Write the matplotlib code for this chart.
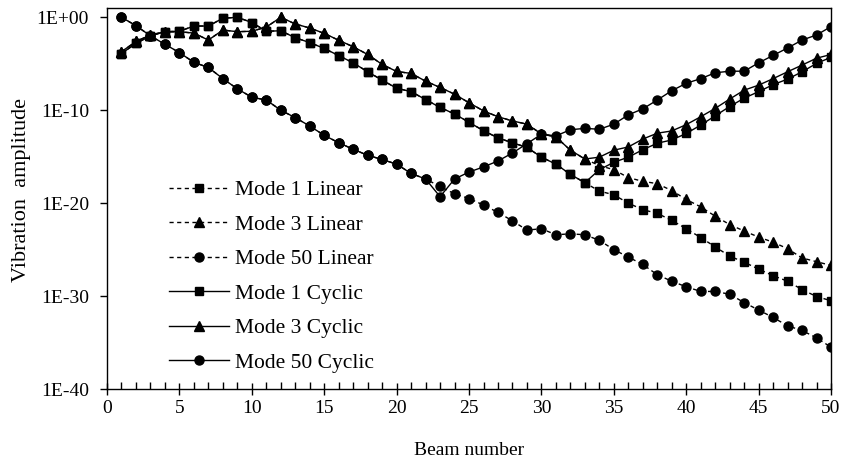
import numpy as np
import matplotlib
matplotlib.use("Agg")
import matplotlib.pyplot as plt
from matplotlib.ticker import FixedLocator, MultipleLocator, FuncFormatter

plt.rcParams["font.family"] = ["Liberation Serif", "DejaVu Serif"]

# beam numbers
beams = np.arange(1, 51)

# log10 of vibration amplitude
mode1_cyclic = [-3.9, -2.8, -2.0, -1.55, -1.5, -0.94, -0.94, -0.1, 0.0, -0.56,
                -1.5, -1.45, -2.2, -2.72, -3.35, -4.12, -4.9, -5.86, -6.76, -7.63,
                -8.0, -8.85, -9.7, -10.4, -11.3, -12.2, -12.98, -13.5, -14.0, -15.05,
                -15.8, -16.9, -17.8, -16.4, -15.6, -15.05, -14.25, -13.55, -13.2, -12.5,
                -11.6, -10.6, -9.6, -8.7, -8.0, -7.25, -6.65, -5.86, -4.96, -4.3]
mode3_cyclic = [-3.7, -2.6, -1.9, -1.55, -1.55, -1.7, -2.45, -1.37, -1.55, -1.5,
                -1.05, 0.0, -0.72, -1.15, -1.73, -2.47, -3.17, -4.0, -5.07, -5.83,
                -6.04, -6.87, -7.55, -8.27, -9.2, -10.07, -10.7, -11.15, -11.5, -12.55,
                -12.87, -14.3, -15.25, -15.05, -14.3, -13.95, -13.1, -12.47, -12.23, -11.55,
                -10.7, -9.8, -8.8, -7.84, -7.3, -6.6, -5.86, -5.14, -4.4, -4.0]
mode50_cyclic = [0.0, -0.9, -2.0, -2.9, -3.8, -4.85, -5.4, -6.6, -7.7, -8.6,
                 -8.9, -10.0, -10.8, -11.7, -12.7, -13.5, -14.2, -14.85, -15.3, -15.8,
                 -16.8, -17.4, -19.3, -17.4, -16.65, -16.1, -15.46, -14.6, -13.6, -12.58,
                 -12.76, -12.1, -11.95, -12.05, -11.5, -10.5, -9.85, -8.9, -7.9, -7.1,
                 -6.6, -5.97, -5.8, -5.8, -4.9, -4.1, -3.3, -2.45, -1.9, -1.0]

# linear results: same as cyclic up to the split, then keep decaying
mode1_linear = mode1_cyclic[:33] + [-18.7, -19.1, -20.0, -20.7, -21.1, -21.85, -22.75, -23.7,
                                    -24.7, -25.7, -26.35, -27.1, -27.8, -28.4, -29.3, -30.05, -30.5]
mode3_linear = mode3_cyclic[:33] + [-15.95, -16.4, -17.25, -17.65, -17.9, -18.65, -19.6, -20.4,
                                    -21.4, -22.3, -23.0, -23.65, -24.2, -24.9, -25.9, -26.3, -26.7]
mode50_linear = mode50_cyclic[:22] + [-18.2, -19.0, -19.5, -20.2, -21.0, -21.9, -22.9, -22.75,
                                      -23.4, -23.3, -23.4, -24.0, -25.0, -25.8, -26.6, -27.7,
                                      -28.4, -29.0, -29.5, -29.5, -29.8, -30.7, -31.5, -32.3,
                                      -33.2, -33.7, -34.5, -35.5]

fig = plt.figure(figsize=(8.48, 4.66), dpi=100)
ax = fig.add_axes([0.1262, 0.1652, 0.8538, 0.8176])

markers = ["s", "^", "o"]
msize = [6, 6.5, 6.5]
linear = [mode1_linear, mode3_linear, mode50_linear]
cyclic = [mode1_cyclic, mode3_cyclic, mode50_cyclic]
names = ["Mode 1", "Mode 3", "Mode 50"]

for vals, m, ms, nm in zip(linear, markers, msize, names):
    ax.plot(beams, np.power(10.0, vals), color="black", lw=1.0, dashes=(3, 2.5),
            marker=m, ms=ms, label=nm + " Linear")
for vals, m, ms, nm in zip(cyclic, markers, msize, names):
    ax.plot(beams, np.power(10.0, vals), color="black", lw=1.0, ls="-",
            marker=m, ms=ms, label=nm + " Cyclic")

ax.set_yscale("log")
ax.set_ylim(1e-40, 1e1)
ax.set_xlim(0, 50)
ax.yaxis.set_major_locator(FixedLocator([1e-40, 1e-30, 1e-20, 1e-10, 1e0]))
ax.yaxis.set_minor_locator(FixedLocator([]))
ax.yaxis.set_major_formatter(FuncFormatter(lambda v, p: "1E%+03d" % int(round(np.log10(v)))))
ax.xaxis.set_major_locator(MultipleLocator(5))
ax.xaxis.set_minor_locator(MultipleLocator(1))

ax.tick_params(axis="y", which="major", direction="out", length=5, width=1, pad=8, labelsize=14)
ax.tick_params(axis="x", which="major", direction="inout", length=9, width=1, labelsize=14)
ax.tick_params(axis="x", which="minor", direction="in", length=5, width=1)
for s in ax.spines.values():
    s.set_linewidth(1.0)

ax.set_xlabel("Beam number", fontsize=14, labelpad=18)
ax.set_ylabel("Vibration  amplitude", fontsize=16)
ax.yaxis.set_label_coords(-0.105, 0.522)

ax.legend(loc="upper left", bbox_to_anchor=(0.0738, 0.571), frameon=False, fontsize=15.5,
          numpoints=1, handlelength=2.8, handletextpad=0.28, labelspacing=0.67,
          borderaxespad=0)

plt.savefig("out.png", dpi=100)
